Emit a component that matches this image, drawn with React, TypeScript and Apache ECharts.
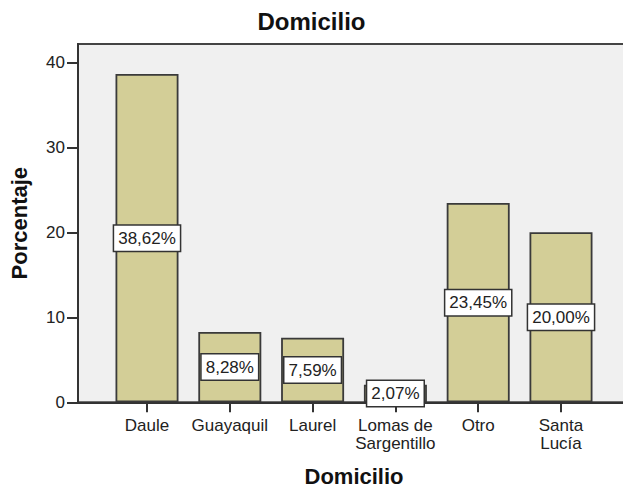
import React, { useEffect, useRef } from "react";
import * as echarts from "echarts";

const categories = ["Daule", "Guayaquil", "Laurel", "Lomas de\nSargentillo", "Otro", "Santa\nLucía"];
const percentages = [38.62, 8.28, 7.59, 2.07, 23.45, 20.0];
const yTicks = [0, 10, 20, 30, 40];
const chartTitle = "Domicilio";
const xTitle = "Domicilio";
const yTitle = "Porcentaje";

const FONT = 'Arial, "Liberation Sans", sans-serif';
const Y_MAX = 42.15;

export default function App() {
  const ref = useRef<HTMLDivElement>(null);

  useEffect(() => {
    document.body.style.margin = "0";
    if (!ref.current) return;
    const chart = echarts.init(ref.current, undefined, { renderer: "svg" });
    chart.setOption({
      animation: false,
      backgroundColor: "#ffffff",
      textStyle: { fontFamily: FONT },
      title: {
        text: chartTitle,
        left: "center",
        top: 9,
        padding: 0,
        textStyle: { fontFamily: FONT, fontSize: 24, fontWeight: "bold", color: "#111" },
      },
      grid: [
        {
          left: 78,
          top: 44,
          right: -4,
          bottom: 86.7,
          show: true,
          backgroundColor: "#F0F0F0",
          borderColor: "#444",
          borderWidth: 2,
          containLabel: false,
          outerBoundsMode: "none",
        },
        {
          left: 105.6,
          top: 44,
          right: 20.6,
          bottom: 86.7,
          containLabel: false,
          outerBoundsMode: "none",
        },
      ],
      xAxis: [
        {
          gridIndex: 0,
          type: "category",
          data: [""],
          axisLine: { show: true, lineStyle: { color: "#333", width: 2 } },
          axisTick: { show: false },
          axisLabel: { show: false },
          splitLine: { show: false },
        },
        {
          gridIndex: 1,
          type: "category",
          data: categories,
          axisLine: { show: false },
          axisTick: {
            show: true,
            alignWithLabel: true,
            length: 10,
            lineStyle: { color: "#333", width: 2 },
          },
          axisLabel: {
            fontFamily: FONT,
            fontSize: 17,
            lineHeight: 18,
            color: "#222",
            margin: 14,
            interval: 0,
          },
          name: xTitle,
          nameLocation: "middle",
          nameGap: 63,
          nameTextStyle: { fontFamily: FONT, fontSize: 22, fontWeight: "bold", color: "#111" },
        },
      ],
      yAxis: [
        {
          gridIndex: 0,
          type: "value",
          min: 0,
          max: Y_MAX,
          interval: 10,
          axisLine: { show: true, lineStyle: { color: "#333", width: 2 } },
          axisTick: {
            show: true,
            length: 11,
            lineStyle: { color: "#333", width: 2 },
            customValues: yTicks,
          },
          axisLabel: {
            fontFamily: FONT,
            fontSize: 17,
            color: "#222",
            margin: 13,
            customValues: yTicks,
          },
          splitLine: { show: false },
          name: yTitle,
          nameLocation: "middle",
          nameRotate: 90,
          nameGap: 48,
          nameTextStyle: { fontFamily: FONT, fontSize: 22, fontWeight: "bold", color: "#111" },
        },
        {
          gridIndex: 1,
          type: "value",
          min: 0,
          max: Y_MAX,
          interval: 10,
          show: false,
          splitLine: { show: false },
        },
      ],
      series: [
        {
          type: "bar",
          xAxisIndex: 1,
          yAxisIndex: 1,
          data: percentages,
          barWidth: 63,
          itemStyle: { color: "#D3CE97", borderColor: "#3a3a3a", borderWidth: 1.8 },
          label: {
            show: true,
            position: "inside",
            formatter: (p: any) => `${Number(p.value).toFixed(2).replace(".", ",")}%`,
            fontFamily: FONT,
            fontSize: 17,
            color: "#222",
            backgroundColor: "#ffffff",
            borderColor: "#333",
            borderWidth: 1.5,
            padding: [4, 4, 4, 4],
          },
        },
      ],
    });
    return () => chart.dispose();
  }, []);

  return <div ref={ref} style={{ width: 623, height: 489 }} />;
}
